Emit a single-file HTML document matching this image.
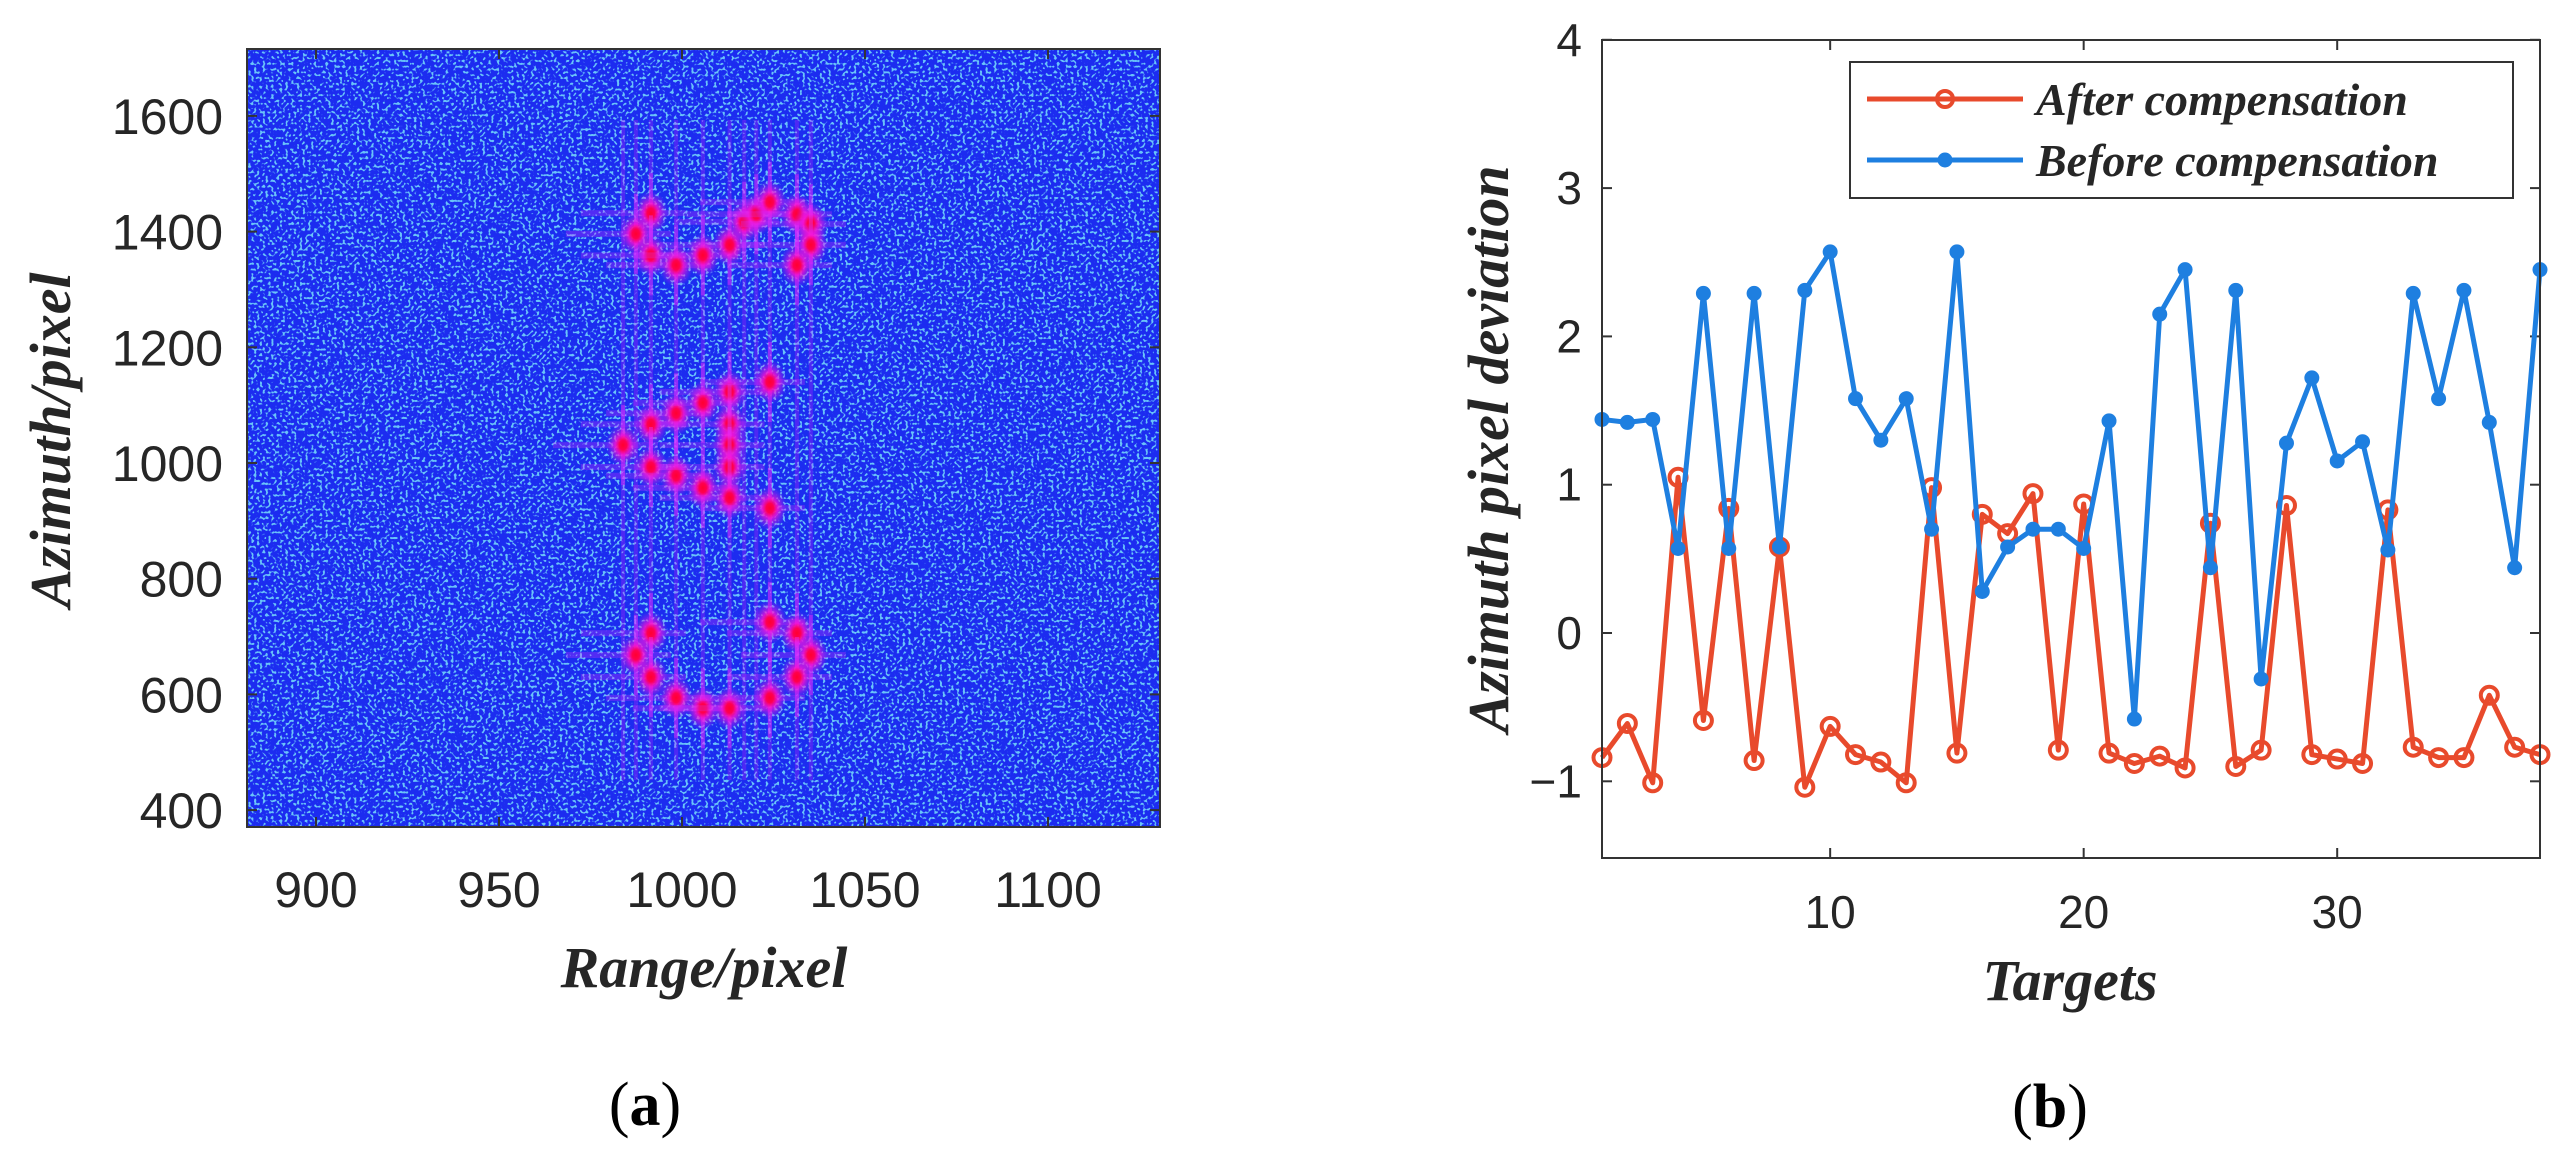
<!DOCTYPE html>
<html><head><meta charset="utf-8"><style>
html,body{margin:0;padding:0;background:#fff;}
svg{display:block;}
.tick{font-family:"Liberation Sans",Arial,sans-serif;fill:#262626;}
.title{font-family:"Liberation Serif","Times New Roman",serif;font-weight:bold;font-style:italic;fill:#262626;}
.cap{font-family:"Liberation Serif","Times New Roman",serif;fill:#000;}
</style></head><body>
<svg id="fig" width="2575" height="1171" viewBox="0 0 2575 1171" xmlns="http://www.w3.org/2000/svg">
<defs>
  <filter id="noise" x="0" y="0" width="100%" height="100%">
    <feTurbulence type="fractalNoise" baseFrequency="0.35" numOctaves="1" seed="7" result="t"/>
    <feColorMatrix in="t" type="matrix" values="0 0 0 0 0.14  0 0 0 0 0.55  0 0 0 0 0.95  0 0 0 10 -5.5" result="c"/>
    <feComposite in="c" in2="SourceGraphic" operator="in"/>
  </filter>
  <radialGradient id="glow">
    <stop offset="0" stop-color="#ff0030"/>
    <stop offset="0.22" stop-color="#ff0050"/>
    <stop offset="0.45" stop-color="#ff10d0" stop-opacity="0.8"/>
    <stop offset="1" stop-color="#b020ff" stop-opacity="0"/>
  </radialGradient>
  <clipPath id="clipA"><rect x="247" y="49" width="913" height="778"/></clipPath>
</defs>

<!-- Panel (a) -->
<g id="panelA">
  <rect x="247" y="49" width="913" height="778" fill="#1c2cf0"/>
  <rect x="247" y="49" width="913" height="778" fill="#2f6cf2" filter="url(#noise)"/>
  <g id="streaks" clip-path="url(#clipA)"></g>
  <g id="targetsA" clip-path="url(#clipA)"></g>
  <rect x="247" y="49" width="913" height="778" fill="none" stroke="#333" stroke-width="2"/>
  <g id="ticksA"></g>
  <text class="title" x="704" y="987" font-size="58" text-anchor="middle">Range/pixel</text>
  <text class="title" transform="translate(70,440) rotate(-90)" font-size="58" text-anchor="middle">Azimuth/pixel</text>
  <text class="cap" x="645" y="1125" font-size="62" text-anchor="middle">(<tspan font-weight="bold">a</tspan>)</text>
</g>

<!-- Panel (b) -->
<g id="panelB">
  <rect x="1602" y="40" width="938" height="818" fill="#fff"/>
  <g id="ticksB"></g>
  <g id="series"></g>
  <rect x="1602" y="40" width="938" height="818" fill="none" stroke="#333" stroke-width="2"/>
  <g>
    <rect x="1850" y="62" width="663" height="136" fill="#fff" stroke="#333" stroke-width="2"/>
    <line x1="1867" y1="99" x2="2023" y2="99" stroke="#e84a2c" stroke-width="5"/>
    <circle cx="1945" cy="99" r="8" fill="none" stroke="#e84a2c" stroke-width="4"/>
    <text class="title" x="2036" y="115" font-size="46" fill="#000">After compensation</text>
    <line x1="1867" y1="160" x2="2023" y2="160" stroke="#1e7fe0" stroke-width="5"/>
    <circle cx="1945" cy="160" r="7.5" fill="#1e7fe0"/>
    <text class="title" x="2036" y="176" font-size="46" fill="#000">Before compensation</text>
  </g>
  <text class="title" x="2070" y="1000" font-size="58" text-anchor="middle">Targets</text>
  <text class="title" transform="translate(1508,449) rotate(-90)" font-size="58" text-anchor="middle">Azimuth pixel deviation</text>
  <text class="cap" x="2050" y="1127" font-size="62" text-anchor="middle">(<tspan font-weight="bold">b</tspan>)</text>
</g>
</svg>
<script>
// ---- Panel (a) data ----
const targetRange = [991.5,987.4,991.5,998.4,1005.7,1013,1017,1020.3,1024,1031.4,1035.2,1035.2,1031.4,
  983.9,991.5,991.5,998.4,998.4,1005.7,1005.7,1013,1013,1013,1013,1013,1024,1024,
  991.5,987.4,991.5,998.4,1005.7,1013,1024,1024,1031.4,1035.2,1031.4];
const targetAzimuth = [1432,1396,1359,1342,1359,1377,1417,1430,1451,1430,1413,1377,1342,
  1031,1067,993,1086,978,1104,957,1123,1067,1031,993,940,1140,922,
  706,668,630,594,576,576,594,725,706,668,630];
const rangeTicks = [900,950,1000,1050,1100];
const azimuthTicks = [400,600,800,1000,1200,1400,1600];
// ---- Panel (b) data ----
const targetIndex = [];
for (let i = 1; i <= 38; i++) targetIndex.push(i);
const afterComp = [-0.84,-0.61,-1.01,1.05,-0.59,0.84,-0.86,0.58,-1.04,-0.63,-0.82,-0.87,-1.01,0.98,-0.81,0.80,
  0.67,0.94,-0.79,0.87,-0.81,-0.88,-0.83,-0.91,0.74,-0.90,-0.79,0.86,-0.82,-0.85,-0.88,0.83,-0.77,-0.84,-0.84,-0.42,-0.77,-0.82];
const beforeComp = [1.44,1.42,1.44,0.57,2.29,0.57,2.29,0.58,2.31,2.57,1.58,1.30,1.58,0.70,2.57,0.28,
  0.58,0.70,0.70,0.57,1.43,-0.58,2.15,2.45,0.44,2.31,-0.31,1.28,1.72,1.16,1.29,0.56,2.29,1.58,2.31,1.42,0.44,2.45];
const xTicksB = [10,20,30];
const yTicksB = [-1,0,1,2,3,4];

const NS = "http://www.w3.org/2000/svg";
function mk(tag, attrs, parent){const e=document.createElementNS(NS,tag);for(const k in attrs)e.setAttribute(k,attrs[k]);parent.appendChild(e);return e;}

// axes for (a)
const xA = v => 682 + (v-1000)*3.66;
const yA = v => 463 - (v-1000)*0.5785;
const streaks = document.getElementById('streaks');
const cols = [...new Set(targetRange)];
cols.forEach(c=>{
  const l = mk('line',{x1:xA(c),x2:xA(c),y1:120,y2:780,stroke:'#c020ff','stroke-width':4,'stroke-opacity':0.3},streaks);
  
  
});
const tA = document.getElementById('targetsA');
for (let i=0;i<targetRange.length;i++){
  const cx=xA(targetRange[i]), cy=yA(targetAzimuth[i]);
  const h = mk('line',{x1:cx-70,x2:cx+35,y1:cy,y2:cy,stroke:'#d030ff','stroke-width':6,'stroke-opacity':0.3},tA);
  
  
  const v = mk('line',{x1:cx,x2:cx,y1:cy-40,y2:cy+40,stroke:'#e030ff','stroke-width':4,'stroke-opacity':0.45},tA);
  
  
  const g = mk('ellipse',{cx:cx,cy:cy,rx:17,ry:22,fill:'url(#glow)'},tA);
  
  
}
const tkA = document.getElementById('ticksA');
rangeTicks.forEach(v=>{
  const x=xA(v);
  mk('line',{x1:x,x2:x,y1:827,y2:817,stroke:'#333','stroke-width':2},tkA);
  mk('line',{x1:x,x2:x,y1:49,y2:59,stroke:'#333','stroke-width':2},tkA);
  const t=mk('text',{x:x,y:907,'font-size':50,'text-anchor':'middle',class:'tick'},tkA);
  t.textContent=v;
  
  
});
azimuthTicks.forEach(v=>{
  const y=yA(v);
  mk('line',{x1:247,x2:257,y1:y,y2:y,stroke:'#333','stroke-width':2},tkA);
  mk('line',{x1:1160,x2:1150,y1:y,y2:y,stroke:'#333','stroke-width':2},tkA);
  const t=mk('text',{x:223,y:y+18,'font-size':50,'text-anchor':'end',class:'tick'},tkA);
  t.textContent=v;
  
  
});

// axes for (b)
const xB = v => 1602 + (v-1)*(938/37);
const yB = v => 633 - v*148.3;
const tkB = document.getElementById('ticksB');
xTicksB.forEach(v=>{
  const x=xB(v);
  mk('line',{x1:x,x2:x,y1:858,y2:848,stroke:'#333','stroke-width':2},tkB);
  mk('line',{x1:x,x2:x,y1:40,y2:50,stroke:'#333','stroke-width':2},tkB);
  const t=mk('text',{x:x,y:928,'font-size':46,'text-anchor':'middle',class:'tick'},tkB);
  t.textContent=v;
  
  
});
yTicksB.forEach(v=>{
  const y=yB(v);
  mk('line',{x1:1602,x2:1612,y1:y,y2:y,stroke:'#333','stroke-width':2},tkB);
  mk('line',{x1:2540,x2:2530,y1:y,y2:y,stroke:'#333','stroke-width':2},tkB);
  const t=mk('text',{x:1582,y:y+16,'font-size':46,'text-anchor':'end',class:'tick'},tkB);
  t.textContent = v<0 ? '\u2212'+Math.abs(v) : v;
  
  
});
const ser = document.getElementById('series');
function drawSeries(vals,color,filled,name){
  const pts = vals.map((v,i)=>xB(targetIndex[i])+','+yB(v)).join(' ');
  const pl = mk('polyline',{points:pts,fill:'none',stroke:color,'stroke-width':5,'stroke-linejoin':'round'},ser);
  
  
  vals.forEach((v,i)=>{
    const c = filled ? mk('circle',{cx:xB(targetIndex[i]),cy:yB(v),r:7.5,fill:color},ser)
                     : mk('circle',{cx:xB(targetIndex[i]),cy:yB(v),r:8.5,fill:'none',stroke:color,'stroke-width':4},ser);
    
    
  });
}
drawSeries(afterComp,'#e84a2c',false,'after-compensation');
drawSeries(beforeComp,'#1e7fe0',true,'before-compensation');
</script>
</body></html>
